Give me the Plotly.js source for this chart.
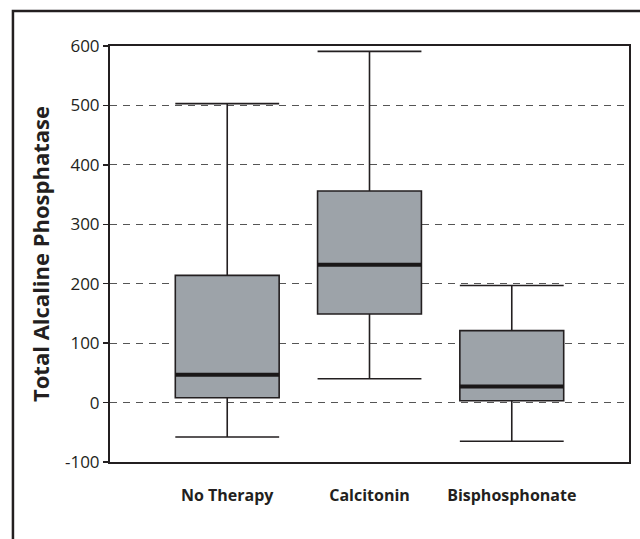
<!DOCTYPE html>
<html>
<head>
<meta charset="utf-8">
<script src="https://cdn.plot.ly/plotly-3.0.1.min.js"></script>
<style>html,body{margin:0;padding:0;background:#fff;}#chart{width:640px;height:539px;}</style>
</head>
<body>
<div id="chart"></div>
<script>
// Data
const categories = ["No Therapy", "Calcitonin", "Bisphosphonate"];
const lowerWhisker = [-58, 40, -65];
const q1Values = [8, 149, 3];
const medianValues = [47, 232, 27];
const q3Values = [214, 356, 121];
const upperWhisker = [503, 591, 197];
const yTickValues = [-100, 0, 100, 200, 300, 400, 500, 600];
const yTickLabels = ["-100", "0", "100", "200", "300", "400", "500", "600"];

const positions = categories.map((c, i) => i);
const boxWidth = 0.73;

const medX = [], medY = [];
positions.forEach((p, i) => {
  medX.push(p - boxWidth / 2, p + boxWidth / 2, null);
  medY.push(medianValues[i], medianValues[i], null);
});

const traces = [
  {
    type: 'box',
    x: positions,
    q1: q1Values,
    median: medianValues,
    q3: q3Values,
    lowerfence: lowerWhisker,
    upperfence: upperWhisker,
    width: boxWidth,
    whiskerwidth: 1,
    boxpoints: false,
    fillcolor: '#9da3a9',
    line: {color: '#231f20', width: 1.6},
    hoverinfo: 'skip',
    showlegend: false
  },
  {
    type: 'scatter',
    mode: 'lines',
    x: medX,
    y: medY,
    line: {color: '#1a1718', width: 4},
    hoverinfo: 'skip',
    showlegend: false
  }
];

const font = 'Open Sans, DejaVu Sans, sans-serif';
const layout = {
  width: 640,
  height: 539,
  autosize: false,
  margin: {l: 110, r: 11, t: 46, b: 77, pad: 0},
  paper_bgcolor: '#ffffff',
  plot_bgcolor: '#ffffff',
  showlegend: false,
  font: {family: font, color: '#231f20'},
  xaxis: {
    range: [-0.824, 2.824],
    tickvals: positions,
    ticktext: categories,
    showgrid: false,
    zeroline: false,
    showline: true,
    mirror: true,
    linecolor: '#231f20',
    linewidth: 2,
    ticks: 'outside',
    ticklen: 18,
    tickcolor: 'rgba(0,0,0,0)',
    tickfont: {family: font, size: 16, weight: 'bold', color: '#231f20'},
    fixedrange: true
  },
  yaxis: {
    range: [-100, 600],
    tickvals: yTickValues,
    ticktext: yTickLabels,
    showgrid: true,
    griddash: '7px,6px',
    gridcolor: '#555555',
    gridwidth: 1,
    zeroline: false,
    showline: true,
    mirror: true,
    linecolor: '#231f20',
    linewidth: 2,
    ticks: 'outside',
    ticklen: 5,
    tickwidth: 1.5,
    tickcolor: '#231f20',
    tickfont: {family: font, size: 17, color: '#231f20'},
    title: {text: 'Total Alcaline Phosphatase', font: {family: font, size: 22, weight: 'bold', color: '#231f20'}, standoff: 9},
    fixedrange: true
  },
  shapes: [
    {
      type: 'path',
      xref: 'paper', yref: 'paper',
      path: 'M -0.187 -0.4 L -0.187 1.084 L 1.1 1.084',
      line: {color: '#231f20', width: 2.5}
    }
  ]
};

Plotly.newPlot('chart', traces, layout, {displayModeBar: false, staticPlot: true});
</script>
</body>
</html>
